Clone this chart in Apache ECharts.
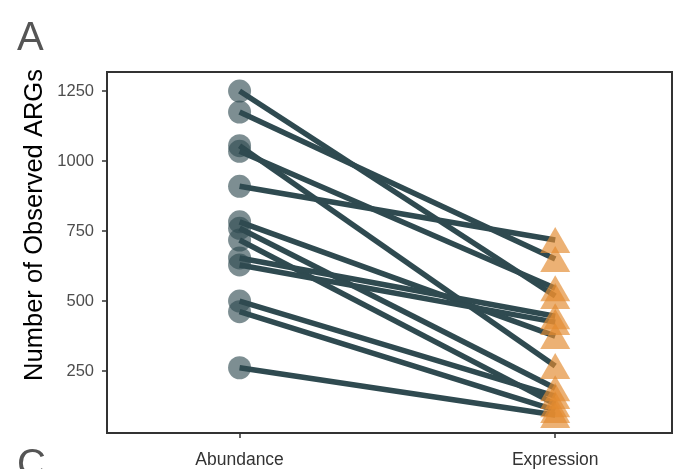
<!DOCTYPE html>
<html>
<head>
<meta charset="utf-8">
<script src="https://cdn.jsdelivr.net/npm/echarts@6/dist/echarts.min.js"></script>
<style>
  html, body { margin: 0; padding: 0; background: #ffffff; }
  #chart { width: 674px; height: 469px; }
</style>
</head>
<body>
<div id="chart"></div>
<script>
// Paired counts of observed ARGs per sample: metagenomic abundance vs. expression
const categories = ['Abundance', 'Expression'];
const abundance  = [1250, 1175, 1055, 1035, 910, 783, 760, 718, 654, 629, 500, 462, 262];
const expression = [518, 650, 268, 546, 718, 375, 189, 132, 446, 425, 161, 111, 93];
const yTicks = [250, 500, 750, 1000, 1250];
const yTitle = 'Number of Observed ARGs';

const LINE = '#2f4a50';
const FONT = 'Liberation Sans, Arial, Helvetica, sans-serif';

const chart = echarts.init(document.getElementById('chart'), null, { renderer: 'canvas' });

// one segment per sample joining its two measurements
const pairLines = abundance.map((a, i) => ({
  type: 'line',
  data: [[1, a], [2, expression[i]]],
  symbol: 'none',
  lineStyle: { color: LINE, width: 5.5, cap: 'butt' },
  z: 3,
  silent: true,
  animation: false
}));

chart.setOption({
  animation: false,
  graphic: [
    { type: 'text', left: 17, top: 19, style: { text: 'A', font: '40px ' + FONT, fill: '#555555' } },
    { type: 'text', left: 17, top: 446, style: { text: 'C', font: '40px ' + FONT, fill: '#555555' } },
    {
      type: 'text', x: 35, y: 225, rotation: Math.PI / 2,
      style: {
        text: yTitle, font: '25.5px ' + FONT, fill: '#000000',
        align: 'center', verticalAlign: 'middle'
      }
    }
  ],
  grid: {
    left: 107, top: 72, right: 2, bottom: 36,
    show: true, borderColor: '#333333', borderWidth: 2, backgroundColor: 'transparent'
  },
  xAxis: {
    type: 'value',
    min: 0.58, max: 2.37,
    splitLine: { show: false },
    axisLine: { show: false },
    axisTick: { show: true, customValues: [1, 2], length: 5, lineStyle: { color: '#333333', width: 1.5 } },
    axisLabel: {
      customValues: [1, 2],
      formatter: v => categories[Math.round(v) - 1],
      color: '#333333', fontSize: 17.5, fontFamily: FONT, margin: 18
    }
  },
  yAxis: {
    type: 'value',
    min: 29, max: 1318,
    splitLine: { show: false },
    axisLine: { show: false },
    axisTick: { show: true, customValues: yTicks, length: 5, lineStyle: { color: '#333333', width: 1.5 } },
    axisLabel: {
      customValues: yTicks,
      formatter: v => String(v),
      color: '#4d4d4d', fontSize: 16.5, fontFamily: FONT, margin: 13
    }
  },
  series: [
    {
      type: 'scatter',
      data: abundance.map(a => [1, a]),
      symbol: 'circle',
      symbolSize: 23,
      itemStyle: { color: 'rgba(47,74,80,0.78)' },
      z: 2
    },
    ...pairLines,
    {
      type: 'scatter',
      data: expression.map(e => [2, e]),
      symbol: 'triangle',
      symbolSize: [30, 26],
      itemStyle: { color: 'rgba(226,138,48,0.84)' },
      z: 4
    }
  ]
});
</script>
</body>
</html>
